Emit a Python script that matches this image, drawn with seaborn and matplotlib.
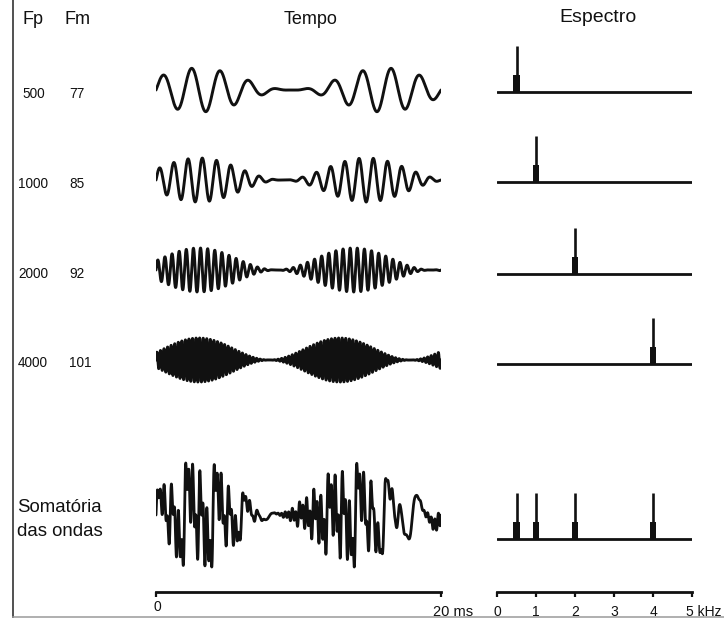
import numpy as np
import matplotlib
matplotlib.use("Agg")
import matplotlib.pyplot as plt
import seaborn as sns

# ---- data -------------------------------------------------------------
fp_hz = [500, 1000, 2000, 4000]          # carrier frequencies (Fp)
fm_hz = [77, 85, 92, 101]                # modulation frequencies (Fm)
fp_labels = ["500", "1000", "2000", "4000"]
fm_labels = ["77", "85", "92", "101"]
env_peak_ms = 3.0                        # envelope maximum position
duration_ms = 20
freq_ticks_khz = [0, 1, 2, 3, 4, 5]
freq_tick_labels = ["0", "1", "2", "3", "4"]
spike_height = 1.0
sideband_height = 0.37

# ---- style ------------------------------------------------------------
sns.set_theme(style="white")
plt.rcParams["font.family"] = ["Liberation Sans", "DejaVu Sans"]
INK = "#111111"

W, H = 724, 621
fig = plt.figure(figsize=(W / 100, H / 100), dpi=100)


def px_axes(x0, y0, x1, y1):
    return fig.add_axes([x0 / W, 1 - y1 / H, (x1 - x0) / W, (y1 - y0) / H])


def ptext(x, y, s, **kw):
    kw.setdefault("va", "center")
    kw.setdefault("color", INK)
    fig.text(x / W, 1 - y / H, s, **kw)


# frame lines (left & bottom)
frame = px_axes(13, -10, 740, 617)
frame.set_facecolor("none")
for side in ["top", "right"]:
    frame.spines[side].set_visible(False)
frame.spines["left"].set_color("#333333")
frame.spines["left"].set_linewidth(1.2)
frame.spines["bottom"].set_color("#9a9a9a")
frame.spines["bottom"].set_linewidth(1.1)
frame.set_xticks([])
frame.set_yticks([])

# ---- signals ----------------------------------------------------------
t = np.linspace(0, duration_ms, 8001)
signals = []
for fp, fm in zip(fp_hz, fm_hz):
    env = 0.5 * (1 + np.cos(2 * np.pi * fm * (t - env_peak_ms) / 1000))
    signals.append(env * np.sin(2 * np.pi * fp * t / 1000))
total = np.sum(signals, axis=0)

# ---- headers ----------------------------------------------------------
ptext(22, 19, "Fp", fontsize=13, ha="left")
ptext(65, 19, "Fm", fontsize=13, ha="left")
ptext(311, 20, "Tempo", fontsize=13, ha="center")
ptext(598, 18, "Espectro", fontsize=14, ha="center")

row_centers = [90, 180, 270, 360]
label_y = [94, 184, 274, 363]
spec_base = [92, 182, 274, 364]
fp_x = [22, 18, 18, 18]

for i, sig in enumerate(signals):
    yc = row_centers[i]
    ax = px_axes(156, yc - 30, 441, yc + 30)
    sns.lineplot(x=t, y=sig, ax=ax, color=INK, lw=2.1, estimator=None, sort=False)
    ax.set_xlim(0, duration_ms)
    ax.set_ylim(-30 / 22, 30 / 22)
    ax.axis("off")
    ptext(fp_x[i], label_y[i], fp_labels[i], fontsize=9.8, ha="left")
    ptext(69, label_y[i], fm_labels[i], fontsize=9.8, ha="left")

# sum of waves
ax = px_axes(156, 515 - 60, 441, 515 + 60)
sns.lineplot(x=t, y=total, ax=ax, color=INK, lw=2.0, estimator=None, sort=False)
lim = np.abs(total).max() * 60 / 52
ax.set_xlim(0, duration_ms)
ax.set_ylim(-lim, lim)
ax.axis("off")
ptext(17, 508, "Somatória", fontsize=13.4, ha="left")
ptext(17, 532, "das ondas", fontsize=13.4, ha="left")


# ---- spectra ----------------------------------------------------------
def spectrum(yb, freqs_hz):
    ax = px_axes(497, yb - 55, 692, yb + 6)
    ax.set_xlim(0, 5)
    ax.set_ylim(-6 / 46, 55 / 46)
    ax.axhline(0, color=INK, lw=2.0)
    fk = [f / 1000 for f in freqs_hz]
    ax.vlines(fk, 0, spike_height, color=INK, lw=1.9)
    ax.bar(fk, [sideband_height] * len(fk), width=0.16, color=INK, linewidth=0)
    ax.axis("off")


for i, fp in enumerate(fp_hz):
    spectrum(spec_base[i], [fp])
spectrum(539, fp_hz)

# ---- scale bars -------------------------------------------------------
def scale_bar(x0, x1, lo, hi, ticks):
    ax = px_axes(x0, 570, x1, 592)
    ax.set_facecolor("none")
    for side in ["top", "right", "left"]:
        ax.spines[side].set_visible(False)
    ax.spines["bottom"].set_color(INK)
    ax.spines["bottom"].set_linewidth(2.0)
    ax.set_xlim(lo, hi)
    ax.set_yticks([])
    ax.set_xticks(ticks)
    ax.set_xticklabels([])
    ax.tick_params(axis="x", direction="out", length=3.5, width=1.6,
                   color=INK, bottom=True)
    return ax


scale_bar(156, 441, 0, duration_ms, [0, duration_ms])
ptext(157, 607, "0", fontsize=10, ha="center")
ptext(433, 612, "20 ms", fontsize=10.5, ha="left")

scale_bar(497, 692, 0, 5, freq_ticks_khz)
for k, lab in zip(freq_ticks_khz, freq_tick_labels):
    ptext(497 + k * 39, 612, lab, fontsize=10, ha="center")
ptext(686, 612, "5 kHz", fontsize=10, ha="left")

fig.savefig("out.png", dpi=100)
